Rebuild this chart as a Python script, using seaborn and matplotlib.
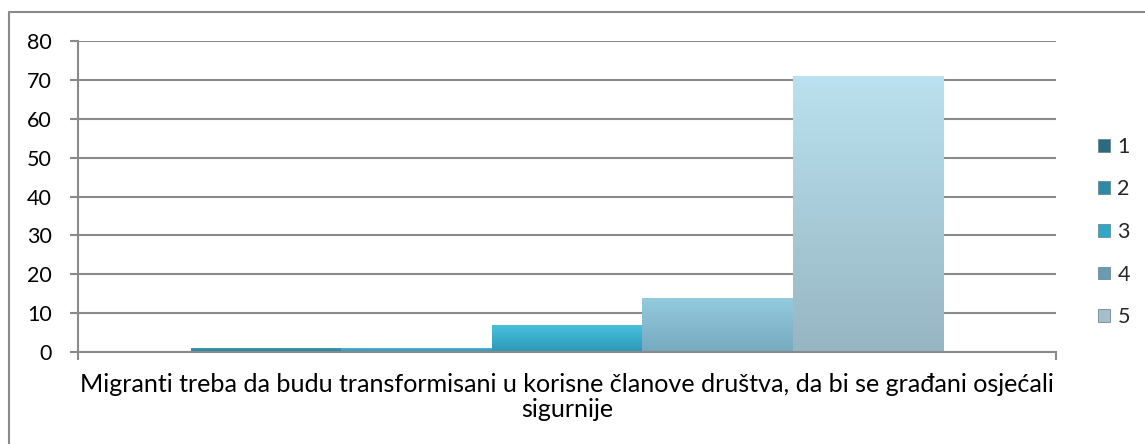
import matplotlib
matplotlib.use("Agg")
import matplotlib.pyplot as plt
import matplotlib.colors as mcolors
import numpy as np
import seaborn as sns
import pandas as pd
from matplotlib.patches import Patch
from matplotlib.lines import Line2D

# ---- data ----
category = ("Migranti treba da budu transformisani u korisne članove društva, "
            "da bi se građani osjećali\nsigurnije")
series = ["1", "2", "3", "4", "5"]
values = [1, 1, 7, 14, 71]
yticks = [0, 10, 20, 30, 40, 50, 60, 70, 80]

bar_colors = ["#2f86a3", "#3a9fbf", "#35a8c6", "#84b8cc", "#a8ccd9"]
bar_top_colors = ["#3a98b6", "#48b4d4", "#48c2de", "#95cbde", "#bae1ef"]
bar_bottom_colors = ["#2a7a95", "#338fae", "#2c98b6", "#76aabf", "#97b6c3"]
legend_colors = ["#2c6a80", "#2f89a6", "#33a7c7", "#6a9cb0", "#a5bfc8"]
gray = "#8a8a8a"

sns.set_theme(style="white")
plt.rcParams['font.family'] = ['Lato', 'DejaVu Sans']

df = pd.DataFrame({"cat": [category] * len(series), "series": series, "value": values})

W, H = 1145, 444
fig = plt.figure(figsize=(W / 100, H / 100), dpi=100)
ax = fig.add_axes([78 / W, 1 - 352 / H, (1056 - 78) / W, (352 - 41) / H])

sns.barplot(data=df, x="cat", y="value", hue="series", palette=bar_colors,
            hue_order=series, width=0.769, gap=0, dodge=True, saturation=1,
            edgecolor="#6f93a0", linewidth=0.6, ax=ax, legend=False)

# vertical gradient shading clipped to each bar (decoration from the bar geometry)
bars = sorted([p for p in ax.patches if p.get_height() > 0], key=lambda p: p.get_x())
for p, ct, cb in zip(bars, bar_top_colors, bar_bottom_colors):
    x0, y0, w, h = p.get_x(), p.get_y(), p.get_width(), p.get_height()
    cmap = mcolors.LinearSegmentedColormap.from_list("g", [cb, ct])
    grad = np.linspace(0, 1, 64).reshape(-1, 1)
    im = ax.imshow(grad, cmap=cmap, aspect="auto", origin="lower",
                   extent=[x0, x0 + w, y0, y0 + h], zorder=p.get_zorder() + 0.1)
    im.set_clip_path(p)
ax.set_xlim(-0.5, 0.5)
ax.set_ylim(0, 80)
ax.set_aspect("auto")
ax.set_yticks(yticks)
ax.set_yticklabels([str(t) for t in yticks])
ax.yaxis.grid(True, color=gray, lw=1.5)
ax.set_axisbelow(True)
ax.set_xlabel("")
ax.set_ylabel("")

for s in ["top", "right"]:
    ax.spines[s].set_visible(False)
for s in ["left", "bottom"]:
    ax.spines[s].set_color(gray)
    ax.spines[s].set_linewidth(1.5)

ax.tick_params(axis='y', left=True, length=5.8, width=1.5, color=gray,
               pad=13, labelsize=15.5, labelcolor="black", direction="out")
ax.set_xticks([0])
ax.set_xticklabels([category], fontsize=18.1, color="black", linespacing=1.12)
ax.tick_params(axis='x', which='major', bottom=False, length=0, pad=15)
ax.set_xticks([-0.5, 0.5], minor=True)
ax.tick_params(axis='x', which='minor', bottom=True, length=5.8, width=1.5,
               color=gray, direction="out")

handles = [Patch(facecolor=c, edgecolor="#5a7f8c", linewidth=0.5) for c in legend_colors]
fig.legend(handles, series, loc="center left",
           bbox_to_anchor=(1098 / W, 1 - 232 / H), frameon=False,
           fontsize=15.5, handlelength=0.55, handleheight=0.55,
           handletextpad=0.35, labelspacing=1.05, borderpad=0, borderaxespad=0)

# outer chart frame (left and top edges visible)
fig.add_artist(Line2D([8.5 / W, 8.5 / W], [0, 1 - 12 / H], transform=fig.transFigure,
                      color=gray, lw=1.5))
fig.add_artist(Line2D([8.5 / W, 1], [1 - 12 / H, 1 - 12 / H], transform=fig.transFigure,
                      color=gray, lw=1.5))

fig.savefig("out.png", dpi=100)
